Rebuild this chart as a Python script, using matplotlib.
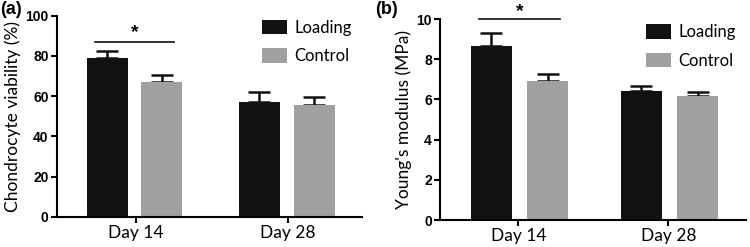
import numpy as np
import matplotlib
matplotlib.use("Agg")
import matplotlib.pyplot as plt

days = ['Day 14', 'Day 28']
series = ['Loading', 'Control']

# panel (a) chondrocyte viability (%)
viab_loading = [79, 57]
viab_control = [67, 55.5]
viab_loading_err = [3.5, 5.2]
viab_control_err = [3.7, 4.3]

# panel (b) Young's modulus (MPa)
mod_loading = [8.65, 6.4]
mod_control = [6.9, 6.15]
mod_loading_err = [0.65, 0.25]
mod_control_err = [0.35, 0.22]

colors = ['#111111', '#a0a0a0']
tick_font = 'Liberation Sans'
text_font = 'Lato'

fig = plt.figure(figsize=(7.5, 2.47), dpi=100)
ax_a = fig.add_axes([0.076, 0.1215, 0.407, 0.815])
ax_b = fig.add_axes([0.587, 0.109, 0.408, 0.814])


def draw_panel(ax, load, ctrl, load_err, ctrl_err, ymax, ystep, ylabel,
               offsets, sig_y, star_y, legend_xy, xlim):
    x = np.arange(len(days))
    w = 0.27
    for vals, errs, off, col, lab in [(load, load_err, offsets[0], colors[0], series[0]),
                                       (ctrl, ctrl_err, offsets[1], colors[1], series[1])]:
        ax.bar(x + off, vals, width=w, color=col, label=lab, zorder=2)
        ax.errorbar(x + off, vals, yerr=[np.zeros(len(vals)), errs], fmt='none',
                    ecolor='#111111', elinewidth=1.8, capsize=8, capthick=1.8, zorder=1)
    ax.set_xlim(*xlim)
    ax.set_ylim(0, ymax)
    ax.set_yticks(np.arange(0, ymax + ystep / 2, ystep))
    ax.set_xticks(x)
    ax.set_xticklabels(days, fontsize=12.5, family=text_font)
    for t in ax.get_yticklabels():
        t.set_fontfamily(tick_font)
        t.set_fontweight('bold')
        t.set_fontsize(10)
    ax.set_ylabel(ylabel, fontsize=12.5, family=text_font, labelpad=3)
    for s in ['top', 'right']:
        ax.spines[s].set_visible(False)
    for s in ['left', 'bottom']:
        ax.spines[s].set_linewidth(1.5)
    ax.tick_params(direction='out', width=1.5, length=4, pad=2)
    # significance bar over Day 14
    ax.plot([x[0] + offsets[0] - 0.08, x[0] + offsets[1] + 0.08], [sig_y, sig_y],
            color='#111111', lw=1.2, clip_on=False)
    ax.text(x[0] + (offsets[0] + offsets[1]) / 2, star_y, '*', ha='center', va='center',
            fontsize=14, fontweight='bold', family=tick_font, clip_on=False)
    ax.legend(loc='upper left', bbox_to_anchor=legend_xy, frameon=False,
              prop={'family': text_font, 'size': 12}, handlelength=1.5,
              handleheight=0.95, handletextpad=0.45, labelspacing=0.75,
              borderpad=0, borderaxespad=0)


draw_panel(ax_a, viab_loading, viab_control, viab_loading_err, viab_control_err,
           100, 20, 'Chondrocyte viability (%)', (-0.19, 0.17), 86.8, 91.5,
           (0.672, 0.98), (-0.52, 1.487))
draw_panel(ax_b, mod_loading, mod_control, mod_loading_err, mod_control_err,
           10, 2, "Young's modulus (MPa)", (-0.18, 0.195), 10.0, 10.35,
           (0.672, 0.975), (-0.52, 1.518))

fig.text(0.0, 0.995, '(a)', fontsize=13, fontweight='bold', family=tick_font, va='top', ha='left')
fig.text(0.5, 0.995, '(b)', fontsize=13, fontweight='bold', family=tick_font, va='top', ha='left')

fig.savefig('out.png', dpi=100)
